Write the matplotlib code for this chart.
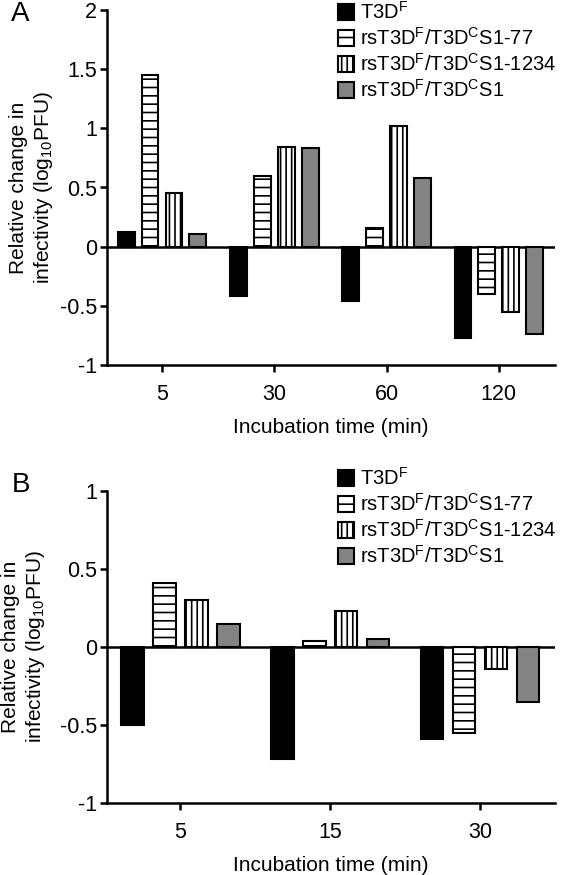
import matplotlib
matplotlib.use('Agg')
import matplotlib.pyplot as plt
import numpy as np

plt.rcParams['font.family'] = ['Liberation Sans', 'DejaVu Sans']
plt.rcParams['mathtext.fontset'] = 'custom'
plt.rcParams['mathtext.rm'] = 'Liberation Sans'
plt.rcParams['mathtext.default'] = 'regular'
plt.rcParams['hatch.linewidth'] = 1.2

series = [r'T3D$^{F}$', r'rsT3D$^{F}$/T3D$^{C}$S1-77',
          r'rsT3D$^{F}$/T3D$^{C}$S1-1234', r'rsT3D$^{F}$/T3D$^{C}$S1']
colors = ['black', 'white', 'white', '#838383']
hatches = [None, '--', '|||', None]

times_a = ['5', '30', '60', '120']
values_a = [
    [0.12, -0.42, -0.46, -0.77],
    [1.45, 0.60, 0.16, -0.40],
    [0.45, 0.84, 1.02, -0.55],
    [0.11, 0.83, 0.58, -0.74],
]

times_b = ['5', '15', '30']
values_b = [
    [-0.50, -0.72, -0.59],
    [0.41, 0.04, -0.55],
    [0.30, 0.23, -0.14],
    [0.15, 0.05, -0.35],
]

W, H = 566, 875
fig = plt.figure(figsize=(W / 100, H / 100), dpi=100)


def panel(rect, times, values, ylim, yticks, ylabels, legend_top, letter, letter_xy, ylab_x):
    ax = fig.add_axes(rect)
    x = np.arange(len(times))
    spacing, width = 0.213, 0.15
    for i, vals in enumerate(values):
        ax.bar(x + (i - 1.5) * spacing, vals, width, color=colors[i], hatch=hatches[i],
               edgecolor='black', linewidth=1.5, label=series[i], zorder=3)
    ax.axhline(0, color='black', lw=1.8, zorder=2)
    ax.set_xlim(-0.49, len(times) - 0.5)
    ax.set_ylim(*ylim)
    ax.set_xticks(x)
    ax.set_xticklabels(times)
    ax.set_yticks(yticks)
    ax.set_yticklabels(ylabels)
    for s in ['top', 'right']:
        ax.spines[s].set_visible(False)
    for s in ['left', 'bottom']:
        ax.spines[s].set_linewidth(1.8)
    ax.tick_params(axis='y', direction='out', length=5, width=1.8, pad=2, labelsize=15.5)
    ax.tick_params(axis='x', direction='out', length=5, width=1.8, pad=9, labelsize=15.5)
    ax.set_xlabel('Incubation time (min)', fontsize=15, labelpad=9)
    bottom, top = rect[1], rect[1] + rect[3]
    fig.text(ylab_x, (bottom + top) / 2,
             'Relative change in\ninfectivity (log$_{10}$PFU)',
             rotation=90, ha='center', va='center', multialignment='center',
             fontsize=15, linespacing=1.25)
    fig.text(letter_xy[0], letter_xy[1], letter, fontsize=20, ha='left', va='top')
    ax.legend(loc='upper left', bbox_to_anchor=(338 / W, legend_top),
              bbox_transform=fig.transFigure, frameon=False, fontsize=14.5,
              borderpad=0, borderaxespad=0, handlelength=0.8, handleheight=0.85,
              handletextpad=0.3, labelspacing=0.2)
    return ax


panel([107 / W, 1 - 365 / H, 448 / W, 355 / H], times_a, values_a, (-1, 2),
      [-1, -0.5, 0, 0.5, 1, 1.5, 2], ['-1', '-0.5', '0', '0.5', '1', '1.5', '2'],
      1 - 1 / H, 'A', (11 / W, 1 - 1 / H), 32 / W)
panel([107 / W, 1 - 803 / H, 448 / W, 312 / H], times_b, values_b, (-1, 1),
      [-1, -0.5, 0, 0.5, 1], ['-1', '-0.5', '0', '0.5', '1'],
      1 - 467 / H, 'B', (12 / W, 1 - 472 / H), 24 / W)

fig.savefig('out.png', dpi=100)
